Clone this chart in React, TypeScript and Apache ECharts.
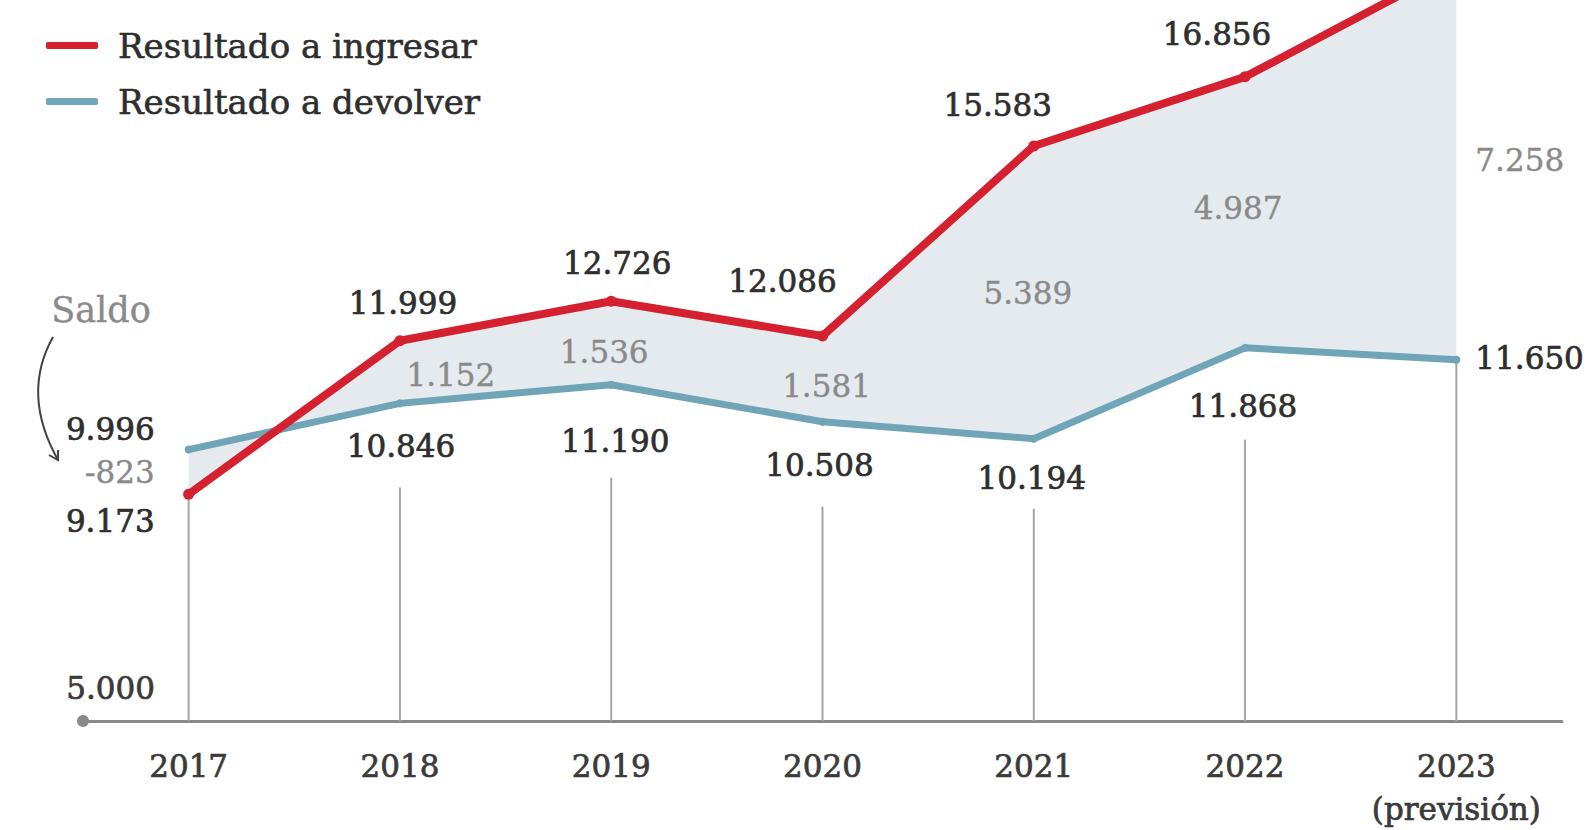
import React, { useEffect, useRef } from 'react';
import * as echarts from 'echarts';

// ---- data ----
const years = ['2017', '2018', '2019', '2020', '2021', '2022', '2023\n(previsión)'];
const ingresar = [9173, 11999, 12726, 12086, 15583, 16856, 18908];
const devolver = [9996, 10846, 11190, 10508, 10194, 11868, 11650];
const saldo = [-823, 1152, 1536, 1581, 5389, 4987, 7258];
const yTickValues = [5000];
const yMin = 5000;
const yMax = 18270;

// ---- label placement (style only) ----
const redOffsets = [[-34, 27], [3, -38], [6, -38], [-40, -55], [-36, -41], [-28, -43], [0, 0]];
const redAlign = ['right', 'center', 'center', 'center', 'center', 'center', 'center'];
const redShow = [true, true, true, true, true, true, false];
const blueOffsets = [[-34, -21], [1, 43], [4, 56], [-3, 43], [-2, 39], [-2, 58], [19, -2]];
const blueAlign = ['right', 'center', 'center', 'center', 'center', 'center', 'left'];
const saldoOffsets = [[-34, 22], [51, -28], [-7, -33], [4, -36], [-6, -146], [-7, -140], [19, -200]];
const saldoAlign = ['right', 'center', 'center', 'center', 'center', 'center', 'left'];
const dropGaps = [0, 84, 93, 85, 70, 92, 0];

const RED = '#d5202f';
const BLUE = '#6fa5b7';
const SHADE = '#e5eaee';
const DARK = '#2e2e2e';
const GRAY = '#8a8a8a';
const FONT = 'DejaVu Serif';

const fmt = (v: number) => {
  const s = Math.abs(v).toString().replace(/\B(?=(\d{3})+(?!\d))/g, '.');
  return (v < 0 ? '-' : '') + s;
};

const darkText = { fontFamily: FONT, fontSize: 31, color: DARK, textBorderColor: DARK, textBorderWidth: 0.7 };
const grayText = { fontFamily: FONT, fontSize: 31, color: GRAY, textBorderColor: GRAY, textBorderWidth: 0.4 };

export default function App() {
  const ref = useRef<HTMLDivElement>(null);
  useEffect(() => {
    if (!ref.current) return;
    const chart = echarts.init(ref.current, null, { renderer: 'svg' });
    const band = ingresar.map((v, i) => v - devolver[i]);
    const lows = ingresar.map((v, i) => [i, Math.min(v, devolver[i])]);

    const option: any = {
      animation: false,
      backgroundColor: '#ffffff',
      grid: { left: 83, right: 25, top: 0, bottom: 108 },
      legend: {
        data: ['Resultado a ingresar', 'Resultado a devolver'],
        orient: 'vertical',
        left: 46,
        top: 27,
        padding: 0,
        icon: 'roundRect',
        itemWidth: 52,
        itemHeight: 7,
        itemGap: 19,
        selectedMode: false,
        textStyle: {
          fontFamily: FONT,
          fontSize: 34,
          color: DARK,
          textBorderColor: DARK,
          textBorderWidth: 0.6,
          lineHeight: 37,
          padding: [0, 0, 0, 15],
        },
      },
      xAxis: {
        type: 'category',
        data: years,
        boundaryGap: true,
        axisLine: { lineStyle: { color: '#8a8a8a', width: 3 }, symbol: ['circle', 'none'], symbolSize: [12, 12] },
        axisTick: { show: false },
        axisLabel: { interval: 0, margin: 23, lineHeight: 43, ...darkText, color: '#3a3a3a', textBorderColor: '#3a3a3a' },
        splitLine: { show: false },
      },
      yAxis: {
        type: 'value',
        min: yMin,
        max: yMax,
        axisLine: { show: false },
        axisTick: { show: false },
        splitLine: { show: false },
        axisLabel: {
          customValues: yTickValues,
          formatter: (v: number) => fmt(v),
          margin: -72,
          align: 'right',
          verticalAlign: 'bottom',
          lineHeight: 66,
          ...darkText,
          color: '#3a3a3a',
          textBorderColor: '#3a3a3a',
        },
      },
      graphic: [
        {
          type: 'text',
          left: 51,
          top: 292,
          style: { text: 'Saldo', fontFamily: FONT, fontSize: 35, fill: GRAY, stroke: GRAY, lineWidth: 0.4 },
        },
        {
          type: 'bezierCurve',
          shape: { x1: 53, y1: 337, cpx1: 21, cpy1: 394, x2: 58, y2: 460 },
          style: { stroke: '#444', lineWidth: 2, fill: 'none' },
        },
        {
          type: 'polyline',
          shape: { points: [[58, 450], [58, 460], [49, 455]] },
          style: { stroke: '#444', lineWidth: 2, fill: 'none' },
        },
      ],
      series: [
        {
          name: 'base',
          type: 'line',
          stack: 'band',
          stackStrategy: 'all',
          data: devolver.map((v, i) => ({
            value: v,
            label: { offset: saldoOffsets[i], align: saldoAlign[i] },
          })),
          symbol: 'circle',
          symbolSize: 2,
          itemStyle: { color: 'rgba(0,0,0,0)' },
          lineStyle: { width: 0, opacity: 0 },
          label: {
            show: true,
            position: 'inside',
            formatter: (p: any) => fmt(saldo[p.dataIndex]),
            ...grayText,
          },
          silent: true,
          z: 4,
        },
        {
          name: 'band',
          type: 'line',
          stack: 'band',
          stackStrategy: 'all',
          data: band,
          symbol: 'none',
          lineStyle: { width: 0, opacity: 0 },
          areaStyle: { color: SHADE, opacity: 1 },
          silent: true,
          z: 1,
        },
        {
          type: 'custom',
          data: lows,
          silent: true,
          z: 1,
          renderItem: (params: any, api: any) => {
            const i = api.value(0);
            const top = api.coord([i, api.value(1)]);
            const bottom = api.coord([i, yMin]);
            return {
              type: 'line',
              shape: { x1: top[0], y1: top[1] + dropGaps[i], x2: top[0], y2: bottom[1] },
              style: { stroke: '#a5a5a5', lineWidth: 2 },
            };
          },
        },
        {
          name: 'Resultado a devolver',
          type: 'line',
          data: devolver.map((v, i) => ({
            value: v,
            label: { offset: blueOffsets[i], align: blueAlign[i] },
          })),
          symbol: 'circle',
          symbolSize: 8,
          itemStyle: { color: BLUE },
          lineStyle: { color: BLUE, width: 7, cap: 'round', join: 'round' },
          label: {
            show: true,
            position: 'inside',
            formatter: (p: any) => fmt(p.value),
            ...darkText,
          },
          z: 3,
        },
        {
          name: 'Resultado a ingresar',
          type: 'line',
          data: ingresar.map((v, i) => ({
            value: v,
            label: { offset: redOffsets[i], align: redAlign[i], show: redShow[i] },
          })),
          symbol: 'circle',
          symbolSize: 11,
          itemStyle: { color: RED },
          lineStyle: { color: RED, width: 8, cap: 'round', join: 'round' },
          label: {
            show: true,
            position: 'inside',
            formatter: (p: any) => fmt(p.value),
            ...darkText,
          },
          z: 3,
        },
      ],
    };
    chart.setOption(option);
    return () => chart.dispose();
  }, []);
  return (
    <div
      ref={ref}
      style={{ position: 'fixed', left: 0, top: 0, width: 1587, height: 830, background: '#fff' }}
    />
  );
}
